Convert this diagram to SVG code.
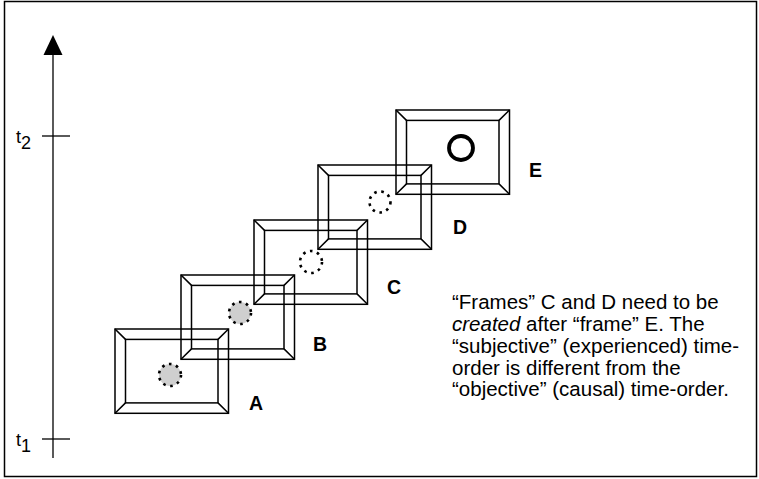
<svg xmlns="http://www.w3.org/2000/svg" xmlns:xlink="http://www.w3.org/1999/xlink" width="759" height="479" viewBox="0 0 759 479">
<style>
.ln{fill:none;stroke:#000;stroke-width:1.5}
.lbl{font-family:"Liberation Sans",Arial,sans-serif;font-weight:bold;font-size:19.5px;fill:#000}
.tx{font-family:"Liberation Sans",Arial,sans-serif;font-size:20.5px;fill:#000}
.tl{font-family:"Liberation Sans",Arial,sans-serif;font-size:18px;fill:#000}
.dot{stroke:#000;stroke-width:2.6;stroke-dasharray:2.6 4.6}
</style>
<defs>
<g id="frame" class="ln">
<rect x="0" y="0" width="113.5" height="84.3"/>
<rect x="10.5" y="10.4" width="92.5" height="63.5"/>
<path d="M0,0L10.5,10.4M113.5,0L103,10.4M0,84.3L10.5,73.9M113.5,84.3L103,73.9"/>
</g>
</defs>
<rect x="4.5" y="1.5" width="752" height="475" fill="#fff" stroke="#000" stroke-width="1.5"/>
<g id="axis">
<line x1="53" y1="54" x2="53" y2="458" stroke="#000" stroke-width="1.3"/>
<polygon points="53,35 43.5,55 62.5,55" fill="#000"/>
<line x1="42" y1="136" x2="70" y2="136" stroke="#000" stroke-width="1.3"/>
<line x1="42" y1="439" x2="70" y2="439" stroke="#000" stroke-width="1.3"/>
<text class="tl" x="16" y="143">t<tspan dy="6">2</tspan></text>
<text class="tl" x="16" y="446">t<tspan dy="6">1</tspan></text>
</g>
<g id="frameA">
<use xlink:href="#frame" href="#frame" x="115" y="329"/>
<circle class="dot" cx="170" cy="375" r="11" fill="#cfcfcf"/>
<text class="lbl" x="249" y="410">A</text>
</g>
<g id="frameB">
<use xlink:href="#frame" href="#frame" x="181" y="275"/>
<circle class="dot" cx="240" cy="313" r="11" fill="#cfcfcf"/>
<text class="lbl" x="313" y="351">B</text>
</g>
<g id="frameC">
<use xlink:href="#frame" href="#frame" x="254" y="220"/>
<circle class="dot" cx="311" cy="262" r="11" fill="none"/>
<text class="lbl" x="387" y="294">C</text>
</g>
<g id="frameD">
<use xlink:href="#frame" href="#frame" x="318" y="165"/>
<circle class="dot" cx="380" cy="202" r="10.5" fill="none"/>
<text class="lbl" x="453" y="234">D</text>
</g>
<g id="frameE">
<use xlink:href="#frame" href="#frame" x="396" y="110"/>
<circle cx="461" cy="148" r="12" fill="none" stroke="#000" stroke-width="3.8"/>
<text class="lbl" x="529" y="177">E</text>
</g>
<g id="connectors"></g>
<g id="note" class="tx">
<text x="452" y="309">“Frames” C and D need to be</text>
<text x="452" y="331"><tspan font-style="italic">created</tspan> after “frame” E. The</text>
<text x="452" y="352.5">“subjective” (experienced) time-</text>
<text x="452" y="374.5">order is different from the</text>
<text x="452" y="396">“objective” (causal) time-order.</text>
</g>
</svg>
